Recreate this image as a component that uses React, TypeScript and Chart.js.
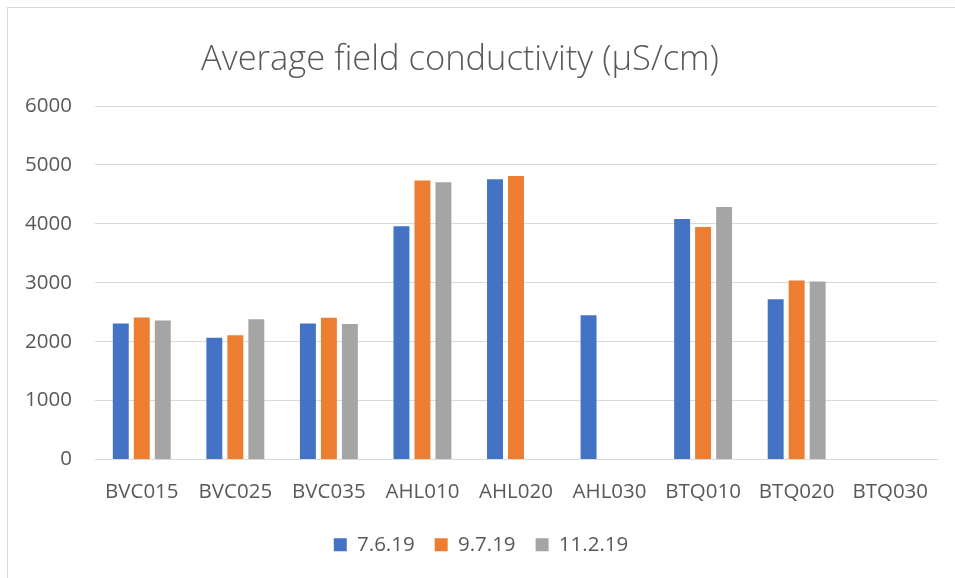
import React, { useEffect, useRef } from "react";
import { Chart, registerables } from "chart.js";

Chart.register(...registerables);

const TITLE = "Average field conductivity (µS/cm)";
const categories = ["BVC015", "BVC025", "BVC035", "AHL010", "AHL020", "AHL030", "BTQ010", "BTQ020", "BTQ030"];
const seriesNames = ["7.6.19", "9.7.19", "11.2.19"];
const series1 = [2310, 2065, 2310, 3960, 4755, 2450, 4080, 2720, null];
const series2 = [2410, 2110, 2405, 4735, 4810, null, 3945, 3040, null];
const series3 = [2360, 2380, 2300, 4705, null, null, 4285, 3020, null];
const yTicks = [0, 1000, 2000, 3000, 4000, 5000, 6000];
const colors = ["#4472C4", "#ED7D31", "#A5A5A5"];

const FONT = "'Open Sans', 'Liberation Sans', sans-serif";
const TEXT = "#595959";

const titlePlugin = {
  id: "customTitle",
  afterDraw(chart: any) {
    const ctx = chart.ctx;
    ctx.save();
    ctx.font = `300 34.5px ${FONT}`;
    ctx.fillStyle = TEXT;
    ctx.textAlign = "center";
    ctx.textBaseline = "middle";
    ctx.fillText(TITLE, 452, 52);
    ctx.restore();
  },
};

export default function App() {
  const ref = useRef<HTMLCanvasElement | null>(null);
  useEffect(() => {
    if (!ref.current) return;
    const data = [series1, series2, series3];
    const chart = new Chart(ref.current, {
      type: "bar",
      data: {
        labels: categories,
        datasets: seriesNames.map((n, i) => ({
          label: n,
          data: data[i] as any,
          backgroundColor: colors[i],
          borderWidth: 0,
          categoryPercentage: 0.673,
          barPercentage: 0.76,
        })),
      },
      options: {
        animation: false,
        responsive: false,
        maintainAspectRatio: false,
        layout: { padding: { top: 98, right: 18, left: 17, bottom: 13 } },
        plugins: {
          title: { display: false },
          tooltip: { enabled: false },
          legend: {
            position: "bottom",
            labels: {
              font: { family: FONT, size: 20.5 },
              color: TEXT,
              boxWidth: 13,
              boxHeight: 13,
              padding: 20,
            },
          },
        },
        scales: {
          x: {
            grid: { display: false, drawTicks: false },
            border: { display: true, color: "#D9D9D9", width: 1 },
            ticks: { font: { family: FONT, size: 20.5 }, color: TEXT, padding: 20, maxRotation: 0, autoSkip: false },
            afterFit: (axis: any) => {
              axis.height = 55;
            },
          },
          y: {
            min: 0,
            max: 6000,
            afterBuildTicks: (axis: any) => {
              axis.ticks = yTicks.map((v) => ({ value: v }));
            },
            afterFit: (axis: any) => {
              axis.width = 70;
            },
            grid: { color: "#D9D9D9", lineWidth: 1, drawTicks: false },
            border: { display: false },
            ticks: {
              font: { family: FONT, size: 20.5 },
              color: TEXT,
              padding: 23,
              callback: (v: any) => String(v),
            },
          },
        },
      },
      plugins: [titlePlugin],
    });
    return () => chart.destroy();
  }, []);
  return (
    <div
      style={{
        position: "absolute",
        left: 7,
        top: 7,
        width: 960,
        height: 580,
        border: "1px solid #D9D9D9",
        background: "#fff",
      }}
    >
      <canvas ref={ref} width={947} height={570} style={{ display: "block" }} />
    </div>
  );
}
